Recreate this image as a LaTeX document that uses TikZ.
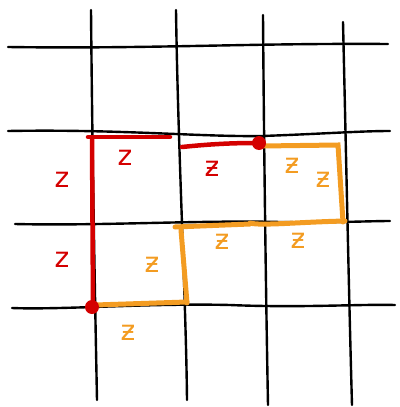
\documentclass[tikz,border=0pt]{standalone}
\usepackage{fontspec}
\newfontfamily\zfont{DejaVu Sans}
\begin{document}
\begin{tikzpicture}[x=1pt,y=-1pt,
  gridline/.style={line width=2.4pt,black,line cap=round},
  redpath/.style={line width=4.5pt,draw={rgb,255:red,212;green,0;blue,0},line cap=round},
  orangepath/.style={line width=5pt,draw={rgb,255:red,243;green,156;blue,34},line cap=round},
  redlbl/.style={text={rgb,255:red,212;green,0;blue,0},font=\zfont\fontsize{28}{28}\selectfont},
  orangelbl/.style={text={rgb,255:red,243;green,156;blue,34},font=\zfont\fontsize{28}{28}\selectfont},
  dot/.style={circle,fill={rgb,255:red,212;green,0;blue,0},inner sep=0pt,minimum size=14pt}]
\useasboundingbox (0,0) rectangle (399,407);
% horizontal grid lines
\draw[gridline] (8,47) .. controls (150,49) and (250,43) .. (388,44);
\draw[gridline] (8,131) .. controls (120,129) and (200,137) .. (262,136) .. controls (320,134) and (360,131) .. (390,131);
\draw[gridline] (15,224) .. controls (100,226) and (200,220) .. (280,222) .. controls (330,223) and (370,221) .. (390,221);
\draw[gridline] (12,308) .. controls (60,310) and (150,303) .. (230,305) .. controls (300,308) and (360,304) .. (395,305);
% vertical grid lines
\draw[gridline] (91,10) .. controls (92,120) and (94,250) .. (97,400);
\draw[gridline] (176,10) .. controls (178,150) and (186,300) .. (187,400);
\draw[gridline] (263,15) .. controls (264,150) and (266,300) .. (268,405);
\draw[gridline] (343,22) .. controls (346,150) and (349,300) .. (352,405);
% orange path
\draw[orangepath] (262,146) -- (338,145) -- (343,222);
\draw[orangepath] (345,221) .. controls (300,222) and (260,226) .. (250,223);
\draw[orangepath] (250,224) -- (175,227);
\draw[orangepath] (181,230) -- (187,303);
\draw[orangepath] (95,305) -- (187,302);
% red path
\draw[redpath] (92,138) -- (93,307);
\draw[redpath] (88,137) -- (170,137);
\draw[redpath] (182,147) .. controls (220,143) and (245,143) .. (258,143);
\node[dot] (d1) at (259,143) {};
\node[dot] (d2) at (92,307) {};
% labels
\node[redlbl] (l1) at (62,180) {z};
\node[redlbl] (l2) at (62,260) {z};
\node[redlbl] (l3) at (125,158) {z};
\node[redlbl] (l4) at (212,169) {ƶ};
\node[orangelbl] (l5) at (292,166) {ƶ};
\node[orangelbl] (l6) at (323,180) {ƶ};
\node[orangelbl] (l7) at (152,265) {ƶ};
\node[orangelbl] (l8) at (222,242) {ƶ};
\node[orangelbl] (l9) at (298,241) {ƶ};
\node[orangelbl] (l10) at (128,333) {ƶ};
\end{tikzpicture}
\end{document}
